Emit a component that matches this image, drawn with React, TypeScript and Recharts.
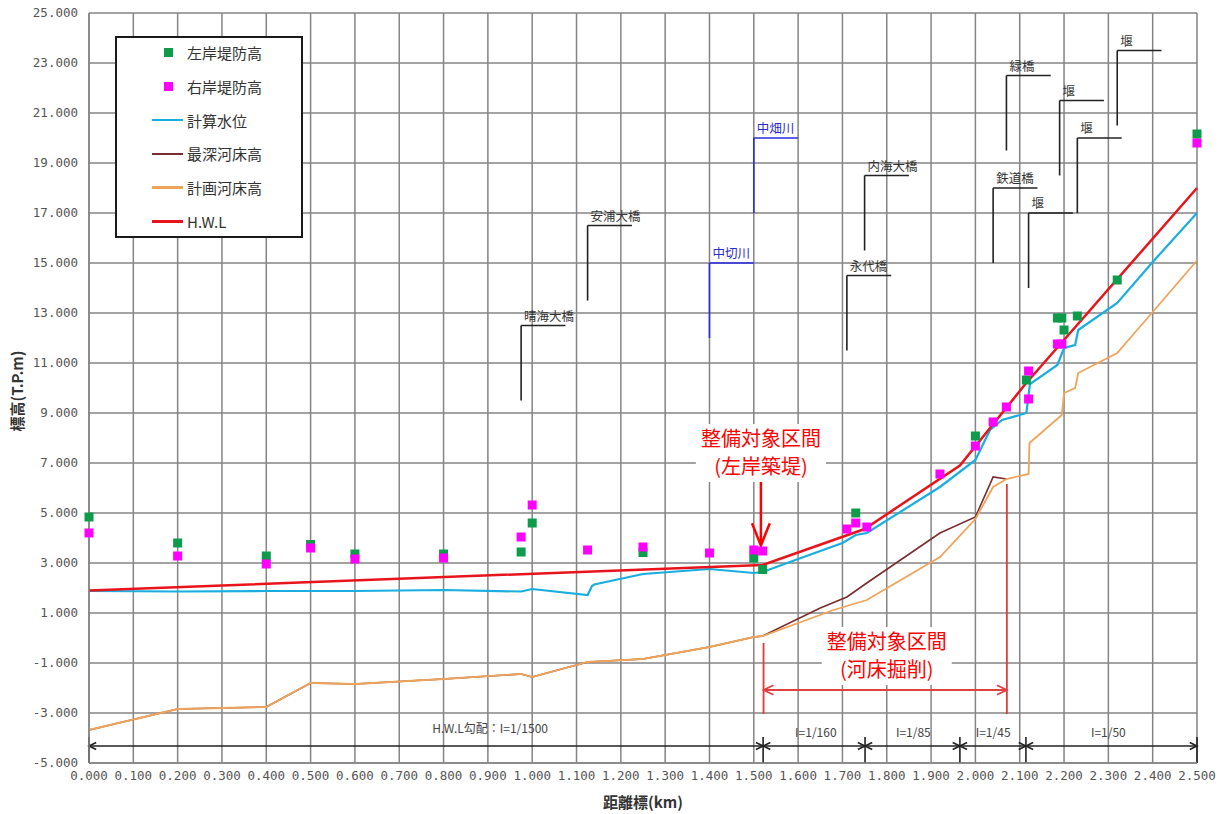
import React from 'react';
import { ComposedChart, Line, Scatter, XAxis, YAxis, CartesianGrid, ReferenceLine, ReferenceDot, Legend } from 'recharts';

const X_TICKS = [0, 0.1, 0.2, 0.3, 0.4, 0.5, 0.6, 0.7, 0.8, 0.9, 1.0, 1.1, 1.2, 1.3, 1.4, 1.5, 1.6, 1.7, 1.8, 1.9, 2.0, 2.1, 2.2, 2.3, 2.4, 2.5];
const Y_TICKS = [-5, -3, -1, 1, 3, 5, 7, 9, 11, 13, 15, 17, 19, 21, 23, 25];

// [距離標(km), 標高(T.P.m)]
const leftBank: [number, number][] = [
    [0, 4.84], [0.2, 3.8], [0.4, 3.28], [0.5, 3.74], [0.6, 3.36], [0.8, 3.36], [0.975, 3.44], [1.0, 4.6],
    [1.25, 3.42], [1.5, 3.2], [1.52, 2.74], [1.73, 5.0], [2.0, 8.08], [2.115, 10.32], [2.185, 12.8],
    [2.195, 12.8], [2.2, 12.32], [2.23, 12.88], [2.32, 14.32], [2.5, 20.16],
];
const rightBank: [number, number][] = [
    [0, 4.2], [0.2, 3.28], [0.4, 2.96], [0.5, 3.6], [0.6, 3.16], [0.8, 3.2], [0.975, 4.04], [1.0, 5.32],
    [1.125, 3.52], [1.25, 3.64], [1.4, 3.4], [1.5, 3.52], [1.52, 3.48], [1.71, 4.36], [1.73, 4.6],
    [1.755, 4.44], [1.92, 6.56], [2.0, 7.68], [2.04, 8.64], [2.07, 9.24], [2.12, 9.56], [2.12, 10.68],
    [2.185, 11.76], [2.195, 11.76], [2.5, 19.8],
];
const calcWater: [number, number][] = [
    [0, 1.88], [0.2, 1.86], [0.4, 1.88], [0.6, 1.88], [0.8, 1.92], [0.975, 1.86], [1.0, 1.96], [1.125, 1.72],
    [1.135, 2.08], [1.14, 2.14], [1.25, 2.56], [1.4, 2.76], [1.5, 2.6], [1.52, 2.64], [1.6, 3.16], [1.7, 3.8],
    [1.73, 4.12], [1.755, 4.2], [1.92, 6.04], [2.0, 7.12], [2.033, 8.32], [2.06, 8.72], [2.1, 8.92],
    [2.115, 9.0], [2.123, 10.16], [2.185, 10.92], [2.2, 11.6], [2.225, 11.72], [2.232, 12.32], [2.32, 13.4],
    [2.4, 15.04], [2.5, 17.0],
];
const deepestBed: [number, number][] = [
    [0, -3.68], [0.2, -2.84], [0.4, -2.76], [0.5, -1.8], [0.6, -1.84], [0.8, -1.64], [0.975, -1.44],
    [1.0, -1.56], [1.125, -0.96], [1.25, -0.84], [1.4, -0.36], [1.5, 0.04], [1.52, 0.08], [1.65, 1.2],
    [1.71, 1.64], [1.755, 2.2], [1.92, 4.2], [2.0, 4.84], [2.04, 6.44], [2.07, 6.36],
];
const planBed: [number, number][] = [
    [0, -3.68], [0.2, -2.84], [0.4, -2.76], [0.5, -1.8], [0.6, -1.84], [0.8, -1.64], [0.975, -1.44],
    [1.0, -1.56], [1.125, -0.96], [1.25, -0.84], [1.4, -0.36], [1.5, 0.04], [1.52, 0.08], [1.68, 1.12],
    [1.755, 1.52], [1.92, 3.24], [2.0, 4.76], [2.04, 6.04], [2.07, 6.36], [2.12, 6.56], [2.122, 7.8],
    [2.195, 8.92], [2.2, 9.8], [2.225, 10.0], [2.232, 10.6], [2.32, 11.4], [2.4, 13.04], [2.5, 15.1],
];
const hwl: [number, number][] = [
    [0, 1.9], [1.52, 2.92], [1.75, 4.36], [1.965, 6.9], [2.11, 10.1], [2.5, 18.0],
];

// 構造物: [名称, 距離標, 下端, 上端, 横線終点]
const structures: [string, number, number, number, number][] = [
    ['晴海大橋', 0.975, 9.5, 12.5, 1.075],
    ['安浦大橋', 1.125, 13.5, 16.5, 1.225],
    ['永代橋', 1.71, 11.5, 14.5, 1.81],
    ['内海大橋', 1.75, 15.5, 18.5, 1.85],
    ['鉄道橋', 2.04, 15, 18, 2.14],
    ['緑橋', 2.07, 19.5, 22.5, 2.17],
    ['堰', 2.12, 14, 17, 2.22],
    ['堰', 2.19, 18.5, 21.5, 2.29],
    ['堰', 2.23, 17, 20, 2.33],
    ['堰', 2.32, 20.5, 23.5, 2.42],
];
const tributaries: [string, number, number, number, number][] = [
    ['中切川', 1.4, 12, 15, 1.5],
    ['中畑川', 1.5, 17, 20, 1.6],
];

// 勾配区間
const slopeBreaks = [0, 1.521, 1.751, 1.965, 2.114, 2.5];
const slopeLabels = ['H.W.L勾配：I=1/1500', 'I=1/160', 'I=1/85', 'I=1/45', 'I=1/50'];
const slopeLabelX = [0.905, 1.64, 1.86, 2.04, 2.3];

const legendItems = [
    { name: '左岸堤防高', color: '#0e9b4b', type: 'square' },
    { name: '右岸堤防高', color: '#ff00ff', type: 'square' },
    { name: '計算水位', color: '#1aaee0', type: 'line' },
    { name: '最深河床高', color: '#7a2e2e', type: 'line' },
    { name: '計画河床高', color: '#eea45a', type: 'line' },
    { name: 'H.W.L', color: '#e8141b', type: 'line' },
];

const JP = "'Noto Sans CJK JP', sans-serif";
const MONO = "'DejaVu Sans Mono', monospace";

const pts = (rows: [number, number][]) => rows.map(([x, y]) => ({ x, y }));

const square = (color: string) => (p: any) => (
    <rect x={p.cx - 4.5} y={p.cy - 4.5} width={9} height={9} fill={color} />
);

const arrowShape = (color: string, width: number, len: number, spread: number, both: boolean) => (p: any) => {
    const { x1, y1, x2, y2 } = p;
    const a = Math.atan2(y2 - y1, x2 - x1);
    const head = (x: number, y: number, dir: number) => {
        const l = `${x + len * Math.cos(dir + Math.PI - spread)},${y + len * Math.sin(dir + Math.PI - spread)}`;
        const r = `${x + len * Math.cos(dir + Math.PI + spread)},${y + len * Math.sin(dir + Math.PI + spread)}`;
        return <polyline points={`${l} ${x},${y} ${r}`} fill="none" stroke={color} strokeWidth={width} />;
    };
    return (
        <g>
            <line x1={x1} y1={y1} x2={x2} y2={y2} stroke={color} strokeWidth={width} />
            {head(x2, y2, a)}
            {both && head(x1, y1, a + Math.PI)}
        </g>
    );
};

const textShape = (text: string, color: string, size: number, dx: number, dy: number, anchor: string) => (p: any) => (
    <text x={p.cx + dx} y={p.cy + dy} fill={color} fontSize={size} textAnchor={anchor} fontFamily={JP}>{text}</text>
);

const redBox = (lines: string[]) => (p: any) => (
    <g>
        <rect x={p.cx - 65} y={p.cy - 29} width={130} height={58} fill="#fff" />
        {lines.map((t, i) => (
            <text key={i} x={p.cx} y={p.cy - 14 + i * 28 + 7} fill="#ff0000" fontSize={20} textAnchor="middle" fontFamily={JP}>{t}</text>
        ))}
    </g>
);

const LegendBox = () => (
    <div style={{ width: 188, height: 202, boxSizing: 'border-box', border: '2px solid #1a1a1a', background: '#fff' }}>
        <div style={{ marginTop: -2 }}>
            {legendItems.map((it) => (
                <div key={it.name} style={{ height: 33.7, display: 'flex', alignItems: 'center', fontFamily: JP, fontSize: 15, color: '#333' }}>
                    <div style={{ width: 70, display: 'flex', justifyContent: 'flex-end', paddingRight: 4, boxSizing: 'border-box' }}>
                        {it.type === 'square'
                            ? <div style={{ width: 9, height: 9, background: it.color, marginRight: 10.5 }} />
                            : <div style={{ width: 31, height: 2.5, background: it.color }} />}
                    </div>
                    <span>{it.name}</span>
                </div>
            ))}
        </div>
    </div>
);

export default function App() {
    const annLine = (color: string) => ({ stroke: color, strokeWidth: 1.6, ifOverflow: 'visible' as const });
    return (
        <div style={{ position: 'absolute', left: 0, top: 0, width: 1227, height: 814, background: '#fff' }}>
            <ComposedChart width={1227} height={814} margin={{ top: 13, right: 30, bottom: 0, left: 0 }}>
                <CartesianGrid stroke="#858585" strokeWidth={1.5} />
                <XAxis
                    type="number" dataKey="x" domain={[0, 2.5]} ticks={X_TICKS} height={51}
                    tickFormatter={(v: number) => v.toFixed(3)} tickLine={false} tickMargin={2}
                    axisLine={{ stroke: '#858585', strokeWidth: 1.5 }}
                    tick={{ fontSize: 12.5, fill: '#555', fontFamily: MONO }}
                    label={{ value: '距離標(km)', position: 'insideBottom', offset: 6, fontSize: 15, fontWeight: 'bold', fill: '#333', fontFamily: JP }}
                />
                <YAxis
                    type="number" dataKey="y" domain={[-5, 25]} ticks={Y_TICKS} width={89}
                    tickFormatter={(v: number) => v.toFixed(3)} tickLine={false} tickMargin={5}
                    axisLine={{ stroke: '#858585', strokeWidth: 1.5 }}
                    tick={{ fontSize: 12.5, fill: '#555', fontFamily: MONO }}
                    label={{
                        value: '標高(T.P.m)',
                        content: () => (
                            <text x={16} y={391} transform="rotate(-90 16 391)" textAnchor="middle" dominantBaseline="central"
                                fontSize={15} fontWeight="bold" fill="#333" fontFamily={JP}>標高(T.P.m)</text>
                        ),
                    }}
                />
                <Legend layout="vertical" align="center" verticalAlign="middle"
                    wrapperStyle={{ left: 115, top: 36, width: 188, height: 202 }} content={() => <LegendBox />} />

                {/* 構造物 */}
                {structures.map(([name, x, yb, yt, xe], i) => (
                    <React.Fragment key={`s${i}`}>
                        <ReferenceLine segment={[{ x, y: yb }, { x, y: yt }]} {...annLine('#222')} />
                        <ReferenceLine segment={[{ x, y: yt }, { x: xe, y: yt }]} {...annLine('#222')} />
                        <ReferenceDot x={x} y={yt} r={0} ifOverflow="visible" shape={textShape(name, '#333', 12.5, 3, -5, 'start')} />
                    </React.Fragment>
                ))}
                {tributaries.map(([name, x, yb, yt, xe], i) => (
                    <React.Fragment key={`t${i}`}>
                        <ReferenceLine segment={[{ x, y: yb }, { x, y: yt }]} {...annLine('#2a2ae0')} />
                        <ReferenceLine segment={[{ x, y: yt }, { x: xe, y: yt }]} {...annLine('#2a2ae0')} />
                        <ReferenceDot x={x} y={yt} r={0} ifOverflow="visible" shape={textShape(name, '#2a2ad0', 12.5, 3, -5, 'start')} />
                    </React.Fragment>
                ))}

                {/* 勾配区間 */}
                {slopeBreaks.map((b) => (
                    <ReferenceLine key={`b${b}`} segment={[{ x: b, y: -3.96 }, { x: b, y: -5 }]} {...annLine('#222')} />
                ))}
                {slopeLabels.map((label, i) => (
                    <React.Fragment key={`l${i}`}>
                        <ReferenceLine segment={[{ x: slopeBreaks[i], y: -4.32 }, { x: slopeBreaks[i + 1], y: -4.32 }]}
                            ifOverflow="visible" shape={arrowShape('#222', 1.6, 8, 0.45, true)} />
                        <ReferenceDot x={slopeLabelX[i]} y={i === 0 ? -3.64 : -3.8} r={0} ifOverflow="visible"
                            shape={textShape(label, '#444', 12, 0, 4, 'middle')} />
                    </React.Fragment>
                ))}

                {/* 整備対象区間 */}
                <ReferenceLine segment={[{ x: 1.522, y: -0.2 }, { x: 1.522, y: -3.04 }]} stroke="#e23a3a" strokeWidth={1.8} ifOverflow="visible" />
                <ReferenceLine segment={[{ x: 2.071, y: 6.16 }, { x: 2.071, y: -3.04 }]} stroke="#e23a3a" strokeWidth={1.8} ifOverflow="visible" />
                <ReferenceLine segment={[{ x: 1.522, y: -2.08 }, { x: 2.071, y: -2.08 }]} ifOverflow="visible"
                    shape={arrowShape('#e04040', 1.8, 11, 0.45, true)} />
                <ReferenceLine segment={[{ x: 1.516, y: 6.3 }, { x: 1.516, y: 3.7 }]} ifOverflow="visible"
                    shape={arrowShape('#ff0000', 2.5, 24, 0.38, false)} />
                <ReferenceDot x={1.516} y={7.4} r={0} ifOverflow="visible" shape={redBox(['整備対象区間', '(左岸築堤)'])} />
                <ReferenceDot x={1.8} y={-0.72} r={0} ifOverflow="visible" shape={redBox(['整備対象区間', '(河床掘削)'])} />

                <Line data={pts(deepestBed)} dataKey="y" stroke="#7a2e2e" strokeWidth={1.6} dot={false} activeDot={false} isAnimationActive={false} />
                <Line data={pts(planBed)} dataKey="y" stroke="#eea45a" strokeWidth={1.8} dot={false} activeDot={false} isAnimationActive={false} />
                <Line data={pts(calcWater)} dataKey="y" stroke="#1aaee0" strokeWidth={2.2} dot={false} activeDot={false} isAnimationActive={false} />
                <Line data={pts(hwl)} dataKey="y" stroke="#e8141b" strokeWidth={2.5} dot={false} activeDot={false} isAnimationActive={false} />
                <Scatter data={pts(leftBank)} dataKey="y" shape={square('#0e9b4b')} isAnimationActive={false} />
                <Scatter data={pts(rightBank)} dataKey="y" shape={square('#ff00ff')} isAnimationActive={false} />
            </ComposedChart>
        </div>
    );
}
